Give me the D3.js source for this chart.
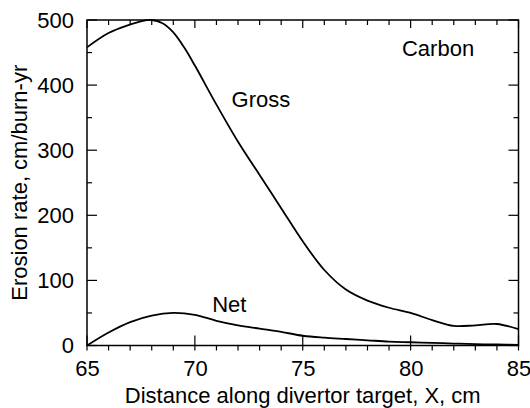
<!DOCTYPE html>
<html>
<head>
<meta charset="utf-8">
<script src="https://cdn.jsdelivr.net/npm/d3@7"></script>
<style>
  html, body { margin: 0; padding: 0; background: #fff; }
  svg { display: block; }
  text { font-family: "Liberation Sans", Arial, Helvetica, sans-serif; fill: #000; }
</style>
</head>
<body>
<svg id="chart" width="530" height="408"></svg>
<script>
// ---- data ----
const grossX = [65, 66, 67, 67.5, 68, 68.5, 69, 69.5, 70, 71, 72, 73, 74, 75, 76, 77, 78, 79, 80, 81, 82, 83, 84, 85];
const grossY = [458, 480, 493, 498, 500, 495, 481, 458, 430, 370, 313, 262, 211, 160, 116, 86, 69, 58, 50, 39, 30, 31, 33, 25];
const netX   = [65, 66, 67, 68, 69, 70, 71, 72, 73, 74, 75, 76, 77, 78, 79, 80, 81, 82, 83, 84, 85];
const netY   = [0, 20, 36, 46, 50, 47, 38, 31, 26, 21, 15, 12, 10, 8, 6, 5, 4, 3, 2, 1.5, 1];
const xMajorTicks = [65, 70, 75, 80, 85];
const yMajorTicks = [0, 100, 200, 300, 400, 500];
const seriesLabels = [
  { text: "Gross", x: 71.7, y: 366 },
  { text: "Net", x: 70.8, y: 52 },
  { text: "Carbon", x: 79.6, y: 445 }
];
const xTitle = "Distance along divertor target, X, cm";
const yTitle = "Erosion rate, cm/burn-yr";

// ---- layout ----
const L = 87, R = 518.5, T = 20, B = 345.5;
const FS = 22;
const svg = d3.select("#chart");

const x = d3.scaleLinear().domain([65, 85]).range([L, R]);
const y = d3.scaleLinear().domain([0, 500]).range([B, T]);

const xMinor = d3.range(65, 86, 1).filter(v => v % 5 !== 0);
const yMinor = d3.range(50, 500, 100);

const makeLine = xs => d3.line()
  .x((d, i) => x(xs[i]))
  .y(d => y(d))
  .curve(d3.curveCatmullRom.alpha(0.5));

svg.append("clipPath").attr("id", "plotclip")
  .append("rect").attr("x", L).attr("y", T - 2).attr("width", R - L).attr("height", B - T + 2);

const g = svg.append("g").attr("clip-path", "url(#plotclip)");
g.append("path").datum(grossY).attr("d", makeLine(grossX))
  .attr("fill", "none").attr("stroke", "#000").attr("stroke-width", 1.8);
g.append("path").datum(netY).attr("d", makeLine(netX))
  .attr("fill", "none").attr("stroke", "#000").attr("stroke-width", 1.8);

// frame
svg.append("rect").attr("x", L).attr("y", T).attr("width", R - L).attr("height", B - T)
  .attr("fill", "none").attr("stroke", "#000").attr("stroke-width", 1.5);

const ticks = svg.append("g").attr("stroke", "#000").attr("stroke-width", 1.2);
xMajorTicks.forEach(v => ticks.append("line").attr("x1", x(v)).attr("x2", x(v)).attr("y1", B - 10).attr("y2", B + 5));
xMinor.forEach(v => ticks.append("line").attr("x1", x(v)).attr("x2", x(v)).attr("y1", B).attr("y2", B + 5));
xMajorTicks.forEach(v => ticks.append("line").attr("x1", x(v)).attr("x2", x(v)).attr("y1", T).attr("y2", T + 8));
xMinor.forEach(v => ticks.append("line").attr("x1", x(v)).attr("x2", x(v)).attr("y1", T).attr("y2", T + 5));
yMajorTicks.forEach(v => {
  ticks.append("line").attr("x1", L).attr("x2", L + 10).attr("y1", y(v)).attr("y2", y(v));
  ticks.append("line").attr("x1", R).attr("x2", R - 10).attr("y1", y(v)).attr("y2", y(v));
});
yMinor.forEach(v => {
  ticks.append("line").attr("x1", L).attr("x2", L + 5).attr("y1", y(v)).attr("y2", y(v));
  ticks.append("line").attr("x1", R).attr("x2", R - 5).attr("y1", y(v)).attr("y2", y(v));
});

// tick labels via axes
const xAxis = d3.axisBottom(x).tickValues(xMajorTicks).tickSize(0).tickPadding(0).tickFormat(d3.format("d"));
const gx = svg.append("g").attr("transform", `translate(0,${B})`).call(xAxis);
gx.select(".domain").remove();
gx.selectAll("text").attr("font-size", FS).attr("y", 30.5).attr("dy", null)
  .style("font-family", '"Liberation Sans", Arial, sans-serif').attr("fill", "#000");

const yAxis = d3.axisLeft(y).tickValues(yMajorTicks).tickSize(0).tickPadding(0).tickFormat(d3.format("d"));
const gy = svg.append("g").attr("transform", `translate(${L},0)`).call(yAxis);
gy.select(".domain").remove();
gy.selectAll("text").attr("font-size", FS).attr("x", -13).attr("dy", "0.32em")
  .style("font-family", '"Liberation Sans", Arial, sans-serif').attr("fill", "#000");

// axis titles
svg.append("text").attr("x", (L + R) / 2).attr("y", 403).attr("text-anchor", "middle")
  .attr("font-size", FS).text(xTitle);
svg.append("text").attr("transform", `translate(27,${(T + B) / 2}) rotate(-90)`)
  .attr("text-anchor", "middle").attr("font-size", FS).text(yTitle);

// series labels
seriesLabels.forEach(d => {
  svg.append("text").attr("x", x(d.x)).attr("y", y(d.y)).attr("font-size", FS).text(d.text);
});
</script>
</body>
</html>
